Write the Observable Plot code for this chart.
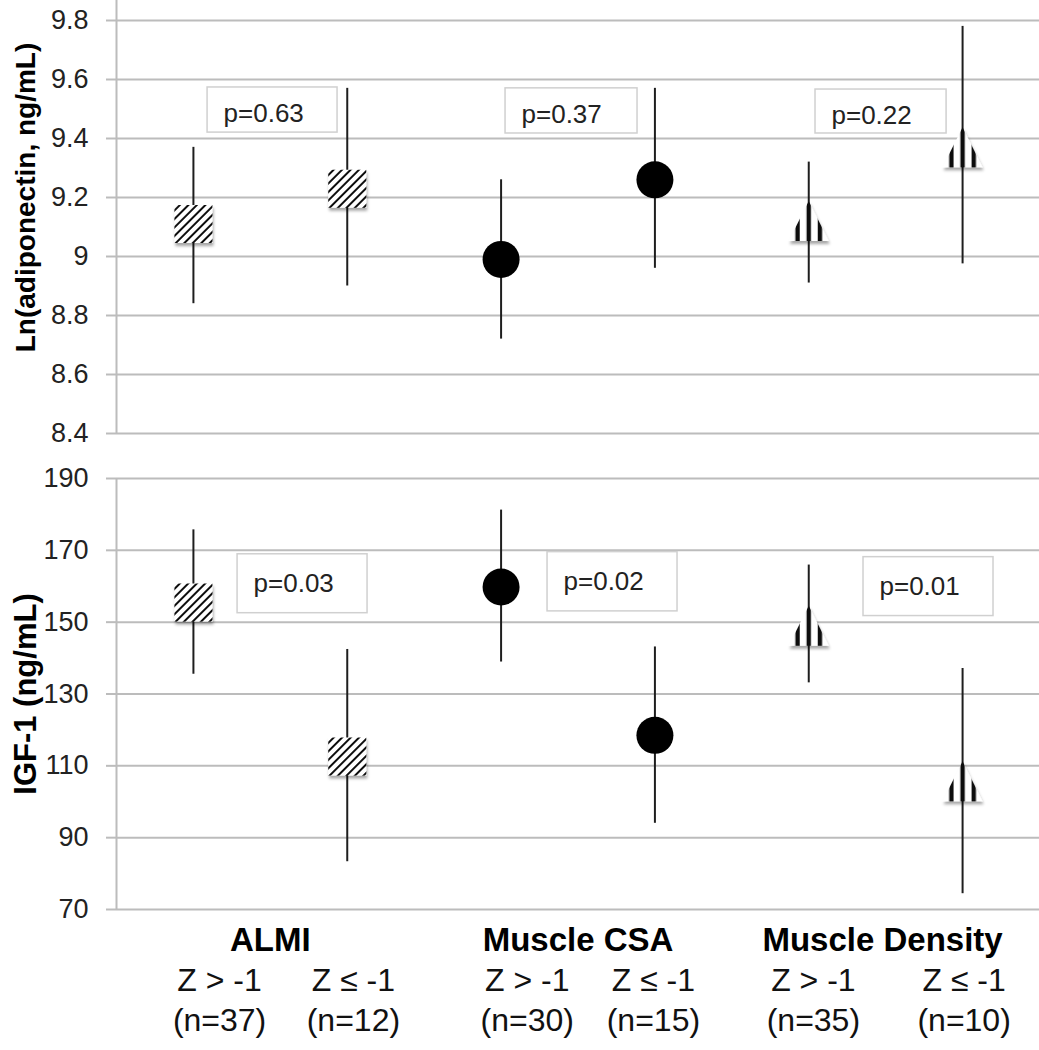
<!DOCTYPE html>
<html><head><meta charset="utf-8">
<script src="https://cdn.jsdelivr.net/npm/d3@7"></script>
<script src="https://cdn.jsdelivr.net/npm/@observablehq/plot@0.6"></script>
<style>
body{margin:0;background:#fff;font-family:"Liberation Sans",Arial,sans-serif;}
#wrap{width:1039px;height:1050px;position:relative;overflow:hidden;background:#fff;}
#topPanel{position:absolute;left:0;top:-39px;}
#bottomPanel{position:absolute;left:0;top:439px;}
svg{display:block;overflow:visible;}
</style></head><body><div id="wrap"><div id="topPanel"></div><div id="bottomPanel"></div></div>
<script>
// ---- data ----
const groups = ["ALMI", "Muscle CSA", "Muscle Density"];
const zLabels = ["Z > -1", "Z ≤ -1", "Z > -1", "Z ≤ -1", "Z > -1", "Z ≤ -1"];
const nLabels = ["(n=37)", "(n=12)", "(n=30)", "(n=15)", "(n=35)", "(n=10)"];

const adipoMean = [9.11, 9.23, 8.99, 9.26, 9.12, 9.37];
const adipoLow  = [8.84, 8.90, 8.72, 8.96, 8.91, 8.975];
const adipoHigh = [9.37, 9.57, 9.26, 9.57, 9.32, 9.78];
const adipoP = ["p=0.63", "p=0.37", "p=0.22"];
const adipoTicks = [8.4, 8.6, 8.8, 9.0, 9.2, 9.4, 9.6, 9.8];

const igfMean = [155.5, 112.6, 159.8, 118.5, 149.0, 105.7];
const igfLow  = [135.5, 83.3, 138.9, 94.0, 133.1, 74.4];
const igfHigh = [175.7, 142.4, 181.2, 143.1, 165.9, 137.1];
const igfP = ["p=0.03", "p=0.02", "p=0.01"];
const igfTicks = [70, 90, 110, 130, 150, 170, 190];

// ---- annotation layout (not data) ----
const adipoBoxes = [
  {x1: 0.092, x2: 0.937, y1: 9.42, y2: 9.573},
  {x1: 2.029, x2: 2.887, y1: 9.417, y2: 9.57},
  {x1: 4.044, x2: 4.896, y1: 9.417, y2: 9.566}
].map((b, k) => ({...b, p: adipoP[k]}));
const igfBoxes = [
  {x1: 0.287, x2: 1.132, y1: 152.5, y2: 168.9},
  {x1: 2.302, x2: 3.147, y1: 153.0, y2: 169.5},
  {x1: 4.356, x2: 5.201, y1: 151.7, y2: 168.1}
].map((b, k) => ({...b, p: igfP[k]}));
const groupX = [0.5, 2.5, 4.48];
const subX = [0.17, 1.04, 2.17, 2.99, 4.03, 5.01];

const squareSym = {draw(ctx, size) { const r = Math.sqrt(size / Math.PI); ctx.rect(-r, -r, 2 * r, 2 * r); }};
const triSym = {draw(ctx, size) { const r = Math.sqrt(size / Math.PI); ctx.moveTo(0, -r); ctx.lineTo(r, r); ctx.lineTo(-r, r); ctx.closePath(); }};

const GRID = "#bcbcbc";

function panel({mean, lo, hi, domain, ticks, fmt, label, labelSize, boxes, height, marginTop, marginBottom, textDy, extra}) {
  const rows = mean.map((m, k) => ({i: k, shape: k >> 1, m, lo: lo[k], hi: hi[k]}));
  return Plot.plot({
    width: 1039, height, marginLeft: 116, marginRight: 0, marginTop, marginBottom,
    style: {fontFamily: "'Liberation Sans', Arial, sans-serif", background: "transparent", overflow: "visible"},
    x: {type: "linear", domain: [-0.5, 5.5], axis: null},
    y: {domain, axis: null},
    marks: [
      Plot.gridY(ticks, {stroke: GRID, strokeOpacity: 1, strokeWidth: 2}),
      Plot.axisY(ticks, {tickSize: 10, tickPadding: 18, tickFormat: fmt, fontSize: 27, stroke: GRID, strokeWidth: 2, fill: "#222", label: null}),
      Plot.ruleX([-0.5], {stroke: GRID, strokeWidth: 2}),
      Plot.rect(boxes, {x1: "x1", x2: "x2", y1: "y1", y2: "y2", fill: "white", stroke: "#d0d0d0", strokeWidth: 1.5}),
      Plot.text(boxes, {x: "x1", y: d => (d.y1 + d.y2) / 2, text: "p", textAnchor: "start", dx: 16, dy: textDy, fontSize: 26, fill: "#222"}),
      Plot.ruleX(rows, {x: "i", y1: "lo", y2: "hi", stroke: "#1e1e1e", strokeWidth: 2}),
      Plot.dot(rows.filter(d => d.shape === 0), {x: "i", y: "m", symbol: squareSym, r: 19, fill: "url(#hatch)", stroke: "none"}),
      Plot.dot(rows.filter(d => d.shape === 1), {x: "i", y: "m", symbol: "circle", r: 18.5, fill: "#000", stroke: "none"}),
      Plot.dot(rows.filter(d => d.shape === 2), {x: "i", y: "m", symbol: triSym, r: 20, fill: "url(#vstripe)", stroke: "none"}),
      Plot.text([label], {frameAnchor: "left", textAnchor: "middle", rotate: -90, dx: -90, text: d => d, fontSize: labelSize, fontWeight: "bold", fill: "#000"}),
      ...(extra || [])
    ]
  });
}

function addDefs(svg) {
  const defs = d3.select(svg).insert("defs", ":first-child");
  const h = defs.append("pattern").attr("id", "hatch").attr("patternUnits", "userSpaceOnUse")
    .attr("width", 6).attr("height", 6).attr("patternTransform", "rotate(45)");
  h.append("rect").attr("width", 6).attr("height", 6).attr("fill", "white");
  h.append("rect").attr("width", 2).attr("height", 6).attr("fill", "#111");
  const v = defs.append("pattern").attr("id", "vstripe").attr("patternUnits", "objectBoundingBox")
    .attr("patternContentUnits", "objectBoundingBox").attr("width", 1).attr("height", 1);
  v.append("rect").attr("width", 1).attr("height", 1).attr("fill", "white");
  for (const c of [0.22, 0.5, 0.78]) {
    v.append("rect").attr("x", c - 0.055).attr("width", 0.11).attr("height", 1).attr("fill", "#111");
  }
  const f = defs.append("filter").attr("id", "shadow").attr("x", "-30%").attr("y", "-30%").attr("width", "170%").attr("height", "170%");
  f.append("feDropShadow").attr("dx", 1).attr("dy", 3).attr("stdDeviation", 1.6)
    .attr("flood-color", "#000").attr("flood-opacity", 0.35);
  d3.select(svg).selectAll("g[aria-label=dot] path").attr("filter", "url(#shadow)");
}

const topChart = panel({
  mean: adipoMean, lo: adipoLow, hi: adipoHigh, domain: [8.4, 10.0], ticks: adipoTicks,
  fmt: d => String(+d.toFixed(1)), label: "Ln(adiponectin, ng/mL)", labelSize: 28, boxes: adipoBoxes,
  height: 478, marginTop: 0, marginBottom: 6, textDy: 4
});
addDefs(topChart);
document.getElementById("topPanel").appendChild(topChart);

const bottomChart = panel({
  mean: igfMean, lo: igfLow, hi: igfHigh, domain: [70, 190], ticks: igfTicks,
  fmt: d => String(d), label: "IGF-1 (ng/mL)", labelSize: 31, boxes: igfBoxes,
  height: 611, marginTop: 39, marginBottom: 141, textDy: 0,
  extra: [
    Plot.text(groups, {x: groupX, text: d => d, frameAnchor: "bottom", dy: 41, fontSize: 33, fontWeight: "bold", fill: "#000"}),
    Plot.text(zLabels, {x: subX, text: d => d, frameAnchor: "bottom", dy: 81, fontSize: 32, fill: "#111"}),
    Plot.text(nLabels, {x: subX, text: d => d, frameAnchor: "bottom", dy: 121, fontSize: 32, fill: "#111"})
  ]
});
addDefs(bottomChart);
document.getElementById("bottomPanel").appendChild(bottomChart);
</script></body></html>
